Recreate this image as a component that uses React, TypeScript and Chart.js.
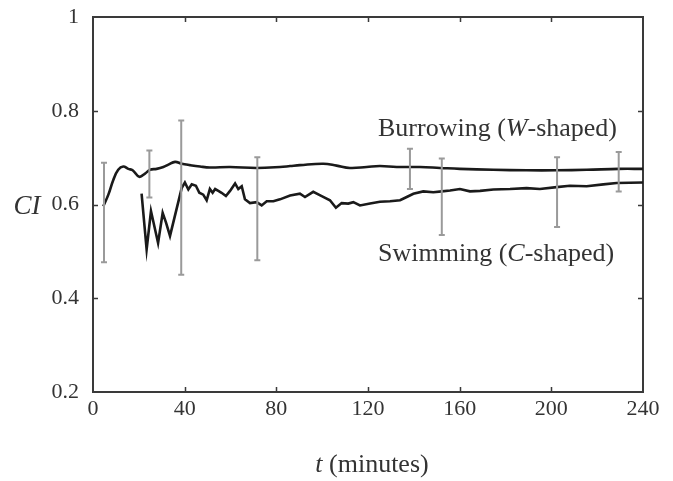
import React, { useEffect, useRef } from "react";
import { Chart, registerables } from "chart.js";

Chart.register(...registerables);

const burrowT = [4.5, 6.7, 8.9, 11, 13.2, 15.4, 17.3, 20.2, 22.7, 24.9, 27.8, 30.7, 32.9, 35.8, 38.7, 42.3, 46.7, 51, 59.8, 71.4, 81.6, 86, 90.3, 100.5, 106.3, 112.1, 119.4, 125.2, 132.5, 142.7, 151.4, 160.1, 174.7, 189.2, 202.3, 215.4, 229.4, 240];
const burrowCI = [0.596, 0.621, 0.653, 0.674, 0.681, 0.676, 0.673, 0.659, 0.666, 0.674, 0.676, 0.68, 0.685, 0.691, 0.687, 0.684, 0.681, 0.679, 0.68, 0.678, 0.68, 0.682, 0.684, 0.687, 0.683, 0.678, 0.68, 0.682, 0.68, 0.68, 0.678, 0.676, 0.674, 0.673, 0.673, 0.674, 0.676, 0.676];

const swimT = [21.2, 23.4, 25.3, 28.4, 30.4, 31.9, 33.6, 38.7, 40.1, 41.6, 43.1, 44.9, 46.4, 48.1, 49.6, 51, 52.2, 53.3, 54.7, 56.1, 58, 59.8, 62, 63.4, 64.9, 66.3, 68.5, 71.4, 73.6, 75.8, 78.7, 81.6, 86, 90.3, 92.5, 96.1, 99.8, 103.4, 106, 108.5, 111.4, 113.6, 116.5, 120.9, 125.2, 129.6, 134, 136.9, 139.8, 144.1, 148.5, 152.2, 155.8, 160.1, 164.5, 168.9, 174.7, 182, 189.2, 195, 202.3, 208.1, 215.4, 222.7, 228.5, 240];
const swimCI = [0.623, 0.504, 0.586, 0.518, 0.582, 0.561, 0.533, 0.635, 0.647, 0.632, 0.643, 0.64, 0.625, 0.621, 0.609, 0.633, 0.625, 0.633, 0.629, 0.625, 0.618, 0.629, 0.645, 0.633, 0.639, 0.611, 0.603, 0.605, 0.598, 0.607, 0.607, 0.611, 0.619, 0.623, 0.616, 0.627, 0.618, 0.609, 0.593, 0.603, 0.602, 0.605, 0.598, 0.602, 0.606, 0.607, 0.609, 0.616, 0.623, 0.628, 0.626, 0.628, 0.63, 0.633, 0.628, 0.629, 0.632, 0.633, 0.635, 0.633, 0.637, 0.64, 0.639, 0.643, 0.646, 0.647];

const errT = [4.8, 24.6, 38.5, 71.7, 138.3, 152.2, 202.5, 229.4];
const errLow = [0.477, 0.615, 0.45, 0.481, 0.633, 0.535, 0.552, 0.628];
const errHigh = [0.689, 0.715, 0.779, 0.701, 0.719, 0.698, 0.701, 0.712];

const xTicks = [0, 40, 80, 120, 160, 200, 240];
const yTicks = [0.2, 0.4, 0.6, 0.8, 1];

const SERIF = "'Liberation Serif', 'DejaVu Serif', serif";
const TEXT = "#333333";

type Run = { text: string; italic?: boolean };

function drawRuns(ctx: CanvasRenderingContext2D, x: number, y: number, runs: Run[], size: number, align: "left" | "center" = "left") {
  ctx.save();
  ctx.fillStyle = TEXT;
  ctx.textBaseline = "alphabetic";
  ctx.textAlign = "left";
  let total = 0;
  for (const r of runs) {
    ctx.font = `${r.italic ? "italic " : ""}${size}px ${SERIF}`;
    total += ctx.measureText(r.text).width;
  }
  let cx = align === "center" ? x - total / 2 : x;
  for (const r of runs) {
    ctx.font = `${r.italic ? "italic " : ""}${size}px ${SERIF}`;
    ctx.fillText(r.text, cx, y);
    cx += ctx.measureText(r.text).width;
  }
  ctx.restore();
}

const decorPlugin = {
  id: "decor",
  beforeDatasetsDraw(chart: any) {
    const { ctx, chartArea: a, scales } = chart;
    const xs = scales.x;
    const ys = scales.y;
    ctx.save();
    ctx.strokeStyle = "#3a3a3a";
    ctx.lineWidth = 2;
    ctx.strokeRect(a.left, a.top, a.right - a.left, a.bottom - a.top);
    ctx.lineWidth = 1.5;
    const tl = 5;
    ctx.beginPath();
    for (const v of xTicks.slice(1, -1)) {
      const px = Math.round(xs.getPixelForValue(v)) + 0.5;
      ctx.moveTo(px, a.bottom);
      ctx.lineTo(px, a.bottom - tl);
      ctx.moveTo(px, a.top);
      ctx.lineTo(px, a.top + tl);
    }
    for (const v of yTicks.slice(1, -1)) {
      const py = Math.round(ys.getPixelForValue(v)) + 0.5;
      ctx.moveTo(a.left, py);
      ctx.lineTo(a.left + tl, py);
      ctx.moveTo(a.right, py);
      ctx.lineTo(a.right - tl, py);
    }
    ctx.stroke();
    ctx.restore();
  },
  afterDatasetsDraw(chart: any) {
    const { ctx, scales } = chart;
    const xs = scales.x;
    const ys = scales.y;
    ctx.save();
    ctx.strokeStyle = "#9a9a9a";
    ctx.lineWidth = 2;
    ctx.beginPath();
    errT.forEach((t, i) => {
      const px = xs.getPixelForValue(t);
      const p1 = ys.getPixelForValue(errLow[i]);
      const p2 = ys.getPixelForValue(errHigh[i]);
      ctx.moveTo(px, p1);
      ctx.lineTo(px, p2);
      ctx.moveTo(px - 3, p1);
      ctx.lineTo(px + 3, p1);
      ctx.moveTo(px - 3, p2);
      ctx.lineTo(px + 3, p2);
    });
    ctx.stroke();
    ctx.restore();
  },
  afterDraw(chart: any) {
    const { ctx, chartArea: a } = chart;
    drawRuns(ctx, 378, 136, [{ text: "Burrowing (" }, { text: "W", italic: true }, { text: "-shaped)" }], 26);
    drawRuns(ctx, 378, 261, [{ text: "Swimming (" }, { text: "C", italic: true }, { text: "-shaped)" }], 26);
    drawRuns(ctx, 27, 214, [{ text: "CI", italic: true }], 27, "center");
    drawRuns(ctx, (a.left + a.right) / 2 + 4, 472, [{ text: "t", italic: true }, { text: " (minutes)" }], 26, "center");
  },
};

export default function App() {
  const ref = useRef<HTMLCanvasElement | null>(null);
  useEffect(() => {
    if (!ref.current) return;
    const chart = new Chart(ref.current, {
      type: "line",
      data: {
        datasets: [
          {
            label: "Burrowing (W-shaped)",
            data: burrowT.map((t, i) => ({ x: t, y: burrowCI[i] })),
            borderColor: "#1a1a1a",
            borderWidth: 2.6,
            pointRadius: 0,
            tension: 0.4,
            fill: false,
          },
          {
            label: "Swimming (C-shaped)",
            data: swimT.map((t, i) => ({ x: t, y: swimCI[i] })),
            borderColor: "#1a1a1a",
            borderWidth: 2.6,
            pointRadius: 0,
            tension: 0,
            fill: false,
          },
        ],
      },
      options: {
        animation: false,
        responsive: false,
        layout: { padding: { left: 0, top: 17, right: 30, bottom: 0 } },
        plugins: { legend: { display: false }, tooltip: { enabled: false } },
        scales: {
          x: {
            type: "linear",
            min: 0,
            max: 240,
            afterFit: (s: any) => { s.height = 89; s.paddingLeft = 0; s.paddingRight = 0; },
            afterBuildTicks: (s: any) => { s.ticks = xTicks.map((v) => ({ value: v })); },
            grid: { display: false },
            border: { display: false },
            ticks: { font: { family: SERIF, size: 22 }, color: TEXT, padding: -4, maxRotation: 0 },
          },
          y: {
            type: "linear",
            min: 0.2,
            max: 1,
            afterFit: (s: any) => { s.width = 93; s.paddingTop = 0; s.paddingBottom = 0; },
            afterBuildTicks: (s: any) => { s.ticks = yTicks.map((v) => ({ value: v })); },
            grid: { display: false },
            border: { display: false },
            ticks: { font: { family: SERIF, size: 22 }, color: TEXT, padding: 6, callback: (v: any) => String(v) },
          },
        },
      },
      plugins: [decorPlugin],
    });
    return () => chart.destroy();
  }, []);
  return (
    <canvas
      ref={ref}
      width={673}
      height={481}
      style={{ position: "absolute", left: 0, top: 0, width: 673, height: 481, display: "block" }}
    />
  );
}
